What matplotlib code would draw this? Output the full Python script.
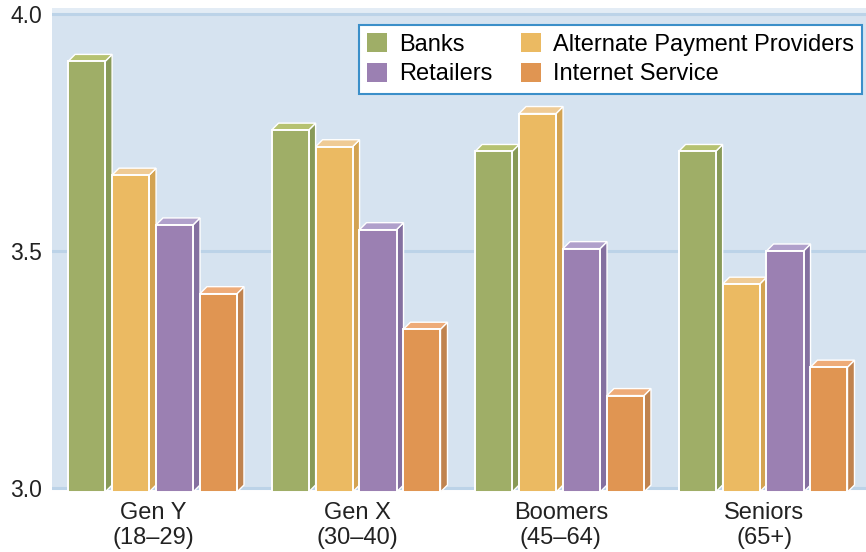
import matplotlib
matplotlib.use("Agg")
import matplotlib.pyplot as plt
from matplotlib.patches import Polygon, Patch
import numpy as np

categories = ["Gen Y\n(18–29)", "Gen X\n(30–40)", "Boomers\n(45–64)", "Seniors\n(65+)"]
series_names = ["Banks", "Alternate Payment Providers", "Retailers", "Internet Service"]
banks = [3.90, 3.755, 3.71, 3.71]
alt_payment = [3.66, 3.72, 3.79, 3.43]
retailers = [3.555, 3.545, 3.505, 3.50]
internet = [3.41, 3.335, 3.195, 3.255]
series_values = [banks, alt_payment, retailers, internet]

front_colors = ["#9fae67", "#ebba62", "#9b80b2", "#e09552"]
side_colors = ["#889a58", "#d3a352", "#8470a0", "#c0834f"]
top_colors = ["#b6c271", "#efcb95", "#b0a0cb", "#eeab78"]

plt.rcParams['font.family'] = ['Liberation Sans', 'DejaVu Sans']

W, H = 866, 552
fig = plt.figure(figsize=(W / 100, H / 100), dpi=100)
ax_left, ax_right, ax_top, ax_bottom = 52, 866, 8, 492
ax = fig.add_axes([ax_left / W, 1 - ax_bottom / H, (ax_right - ax_left) / W, (ax_bottom - ax_top) / H])

px_per_unit = 474.0
y_lo = 3.0 - 4 / px_per_unit
y_hi = 4.0 + 6 / px_per_unit
ax.set_ylim(y_lo, y_hi)
ax.set_xlim(-0.5, 3.5)
ax.set_facecolor("white")

x_px_per_unit = (ax_right - ax_left) / 4.0
dx = 7 / x_px_per_unit
dy = 7 / px_per_unit

# back wall
ax.axhspan(3.0, 4.0, color="#d6e3f0", lw=0, zorder=0)
ax.axhspan(4.0, y_hi, color="#e3ecf5", lw=0, zorder=0)
for g in [3.0, 3.5, 4.0]:
    ax.axhline(g, color="#bcd3e8", lw=2.2, zorder=1)

bar_w = 0.182
pitch = 0.216
x = np.arange(len(categories))
for j, vals in enumerate(series_values):
    xs = x + (j - 1.5) * pitch - 0.006
    ax.bar(xs, np.array(vals) - y_lo, bottom=y_lo, width=bar_w, color=front_colors[j],
           edgecolor="white", linewidth=1.4, zorder=3, label=series_names[j])
    for xc, v in zip(xs, vals):
        l, r = xc - bar_w / 2, xc + bar_w / 2
        side = Polygon([(r, y_lo), (r + dx, y_lo + dy), (r + dx, v + dy), (r, v)],
                       closed=True, facecolor=side_colors[j], edgecolor="white", lw=1.0, zorder=2.9)
        top = Polygon([(l, v), (l + dx, v + dy), (r + dx, v + dy), (r, v)],
                      closed=True, facecolor=top_colors[j], edgecolor="white", lw=1.0, zorder=2.9)
        ax.add_patch(side)
        ax.add_patch(top)

for s in ax.spines.values():
    s.set_visible(False)
ax.set_yticks([3.0, 3.5, 4.0])
ax.set_yticklabels(["3.0", "3.5", "4.0"], fontsize=16.5, color="#222222")
ax.set_xticks(x)
ax.set_xticklabels(categories, fontsize=17, color="#222222", linespacing=1.2)
ax.tick_params(axis="both", length=0)
ax.tick_params(axis="y", pad=7)
ax.tick_params(axis="x", pad=7)

handles = [Patch(facecolor=front_colors[k], edgecolor="none") for k in [0, 2, 1, 3]]
labels = [series_names[k] for k in [0, 2, 1, 3]]
leg = ax.legend(handles, labels, ncol=2, loc="upper right", bbox_to_anchor=(0.995, 0.965),
                borderaxespad=0, fontsize=17, frameon=True, fancybox=False,
                handlelength=0.85, handleheight=0.85, handletextpad=0.5, columnspacing=1.2,
                labelspacing=0.3, borderpad=0.35)
leg.get_frame().set_edgecolor("#3b8fc9")
leg.get_frame().set_linewidth(1.5)
leg.get_frame().set_alpha(1)
leg.set_zorder(5)

fig.savefig("out.png", dpi=100)
